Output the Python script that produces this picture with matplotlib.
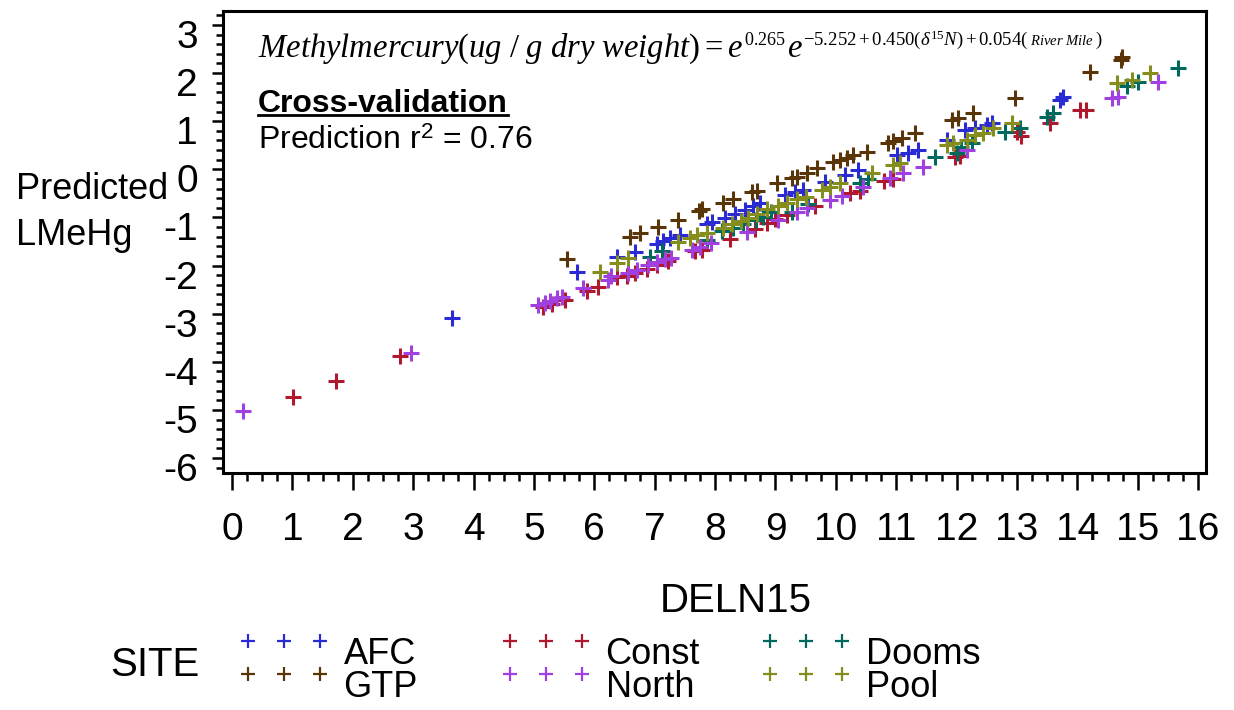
import matplotlib
matplotlib.use('Agg')
import matplotlib.pyplot as plt
from matplotlib.lines import Line2D
from matplotlib.legend_handler import HandlerLine2D
from matplotlib.ticker import MultipleLocator, AutoMinorLocator
import matplotlib.transforms as mtransforms

plt.rcParams['font.family'] = ['Liberation Sans', 'DejaVu Sans']
plt.rcParams['mathtext.fontset'] = 'custom'
plt.rcParams['mathtext.it'] = 'Liberation Serif:italic'
plt.rcParams['mathtext.rm'] = 'Liberation Serif'
plt.rcParams['mathtext.sf'] = 'Liberation Sans'
plt.rcParams['axes.unicode_minus'] = False

# データ（DELN15, 予測LMeHg）サイト別
afc_x = [3.64, 5.71, 6.37, 6.67, 7.04, 7.14, 7.25, 7.42, 7.86, 7.95, 8.16, 8.33, 8.49, 8.63,
         8.74, 9.16, 9.32, 9.45, 9.82, 10.15, 10.36, 11.01, 11.19, 11.36, 11.84, 12.14, 12.30,
         12.50, 12.58, 13.71, 13.76]
afc_y = [-3.09, -2.14, -1.82, -1.72, -1.55, -1.49, -1.43, -1.37, -1.14, -1.10, -1.01, -0.93,
         -0.85, -0.76, -0.70, -0.53, -0.47, -0.43, -0.26, -0.12, -0.01, 0.30, 0.34, 0.40, 0.61,
         0.82, 0.86, 0.92, 0.96, 1.44, 1.50]

const_x = [1.01, 1.72, 2.78, 5.15, 5.30, 5.51, 5.88, 6.06, 6.37, 6.54, 6.67, 6.87, 7.04, 7.22,
           7.67, 7.78, 8.25, 8.66, 8.86, 8.99, 9.19, 9.65, 10.23, 10.40, 10.79, 10.94, 11.97,
           12.05, 13.00, 13.06, 13.54, 14.04, 14.14]
const_y = [-4.73, -4.40, -3.88, -2.86, -2.80, -2.72, -2.53, -2.45, -2.24, -2.22, -2.16, -2.07,
           -1.99, -1.91, -1.70, -1.68, -1.45, -1.24, -1.12, -1.03, -0.95, -0.76, -0.49, -0.45,
           -0.24, -0.20, 0.26, 0.28, 0.78, 0.69, 0.96, 1.23, 1.23]

dooms_x = [6.92, 7.12, 7.86, 8.11, 8.29, 8.46, 8.68, 8.79, 8.92, 9.27, 9.54, 10.40, 10.53,
           11.64, 12.00, 12.07, 12.25, 12.80, 13.05, 13.49, 13.59, 14.82, 15.00, 15.66]
dooms_y = [-1.82, -1.70, -1.47, -1.28, -1.22, -1.14, -1.05, -0.99, -0.89, -0.89, -0.72, -0.28,
           -0.20, 0.26, 0.34, 0.46, 0.55, 0.78, 0.86, 1.09, 1.17, 1.73, 1.81, 2.11]

gtp_x = [5.55, 6.59, 6.75, 7.05, 7.38, 7.73, 7.78, 8.13, 8.29, 8.61, 8.69, 9.02, 9.27, 9.35,
         9.52, 9.68, 9.95, 10.07, 10.18, 10.28, 10.51, 10.86, 10.94, 11.09, 11.31, 11.92, 12.02,
         12.27, 12.96, 14.21, 14.72, 14.74]
gtp_y = [-1.86, -1.41, -1.32, -1.20, -1.05, -0.87, -0.83, -0.70, -0.62, -0.47, -0.45, -0.28,
         -0.18, -0.16, -0.08, 0.03, 0.15, 0.19, 0.23, 0.30, 0.36, 0.55, 0.59, 0.65, 0.75, 1.02,
         1.07, 1.17, 1.48, 2.02, 2.27, 2.33]

north_x = [0.18, 2.96, 5.07, 5.18, 5.26, 5.38, 5.46, 5.81, 6.23, 6.27, 6.56, 6.71, 6.89, 7.04,
           7.17, 7.27, 7.62, 7.75, 7.93, 8.53, 9.04, 9.35, 9.52, 9.90, 10.10, 10.45, 10.89,
           11.11, 11.44, 12.17, 14.57, 14.67, 15.33]
north_y = [-5.02, -3.82, -2.82, -2.78, -2.74, -2.68, -2.65, -2.47, -2.30, -2.22, -2.16, -2.09,
           -1.99, -1.93, -1.86, -1.84, -1.68, -1.62, -1.53, -1.30, -1.05, -0.89, -0.80, -0.64,
           -0.56, -0.37, -0.18, -0.08, 0.05, 0.40, 1.48, 1.50, 1.81]

pool_x = [6.09, 6.37, 6.56, 7.38, 7.58, 7.70, 7.86, 8.13, 8.28, 8.43, 8.54, 8.69, 8.86, 9.04,
          9.19, 9.35, 9.50, 9.77, 9.90, 10.07, 10.60, 10.94, 11.06, 11.84, 11.94, 12.17, 12.30,
          12.43, 12.60, 12.91, 14.65, 14.90, 15.20]
pool_y = [-2.14, -1.95, -1.84, -1.51, -1.43, -1.37, -1.32, -1.22, -1.14, -1.07, -1.01, -0.93,
          -0.83, -0.76, -0.70, -0.62, -0.58, -0.43, -0.37, -0.28, -0.08, 0.09, 0.13, 0.51, 0.55,
          0.61, 0.71, 0.75, 0.86, 0.96, 1.79, 1.86, 2.00]

sites = ['AFC', 'Const', 'Dooms', 'GTP', 'North', 'Pool']
site_x = [afc_x, const_x, dooms_x, gtp_x, north_x, pool_x]
site_y = [afc_y, const_y, dooms_y, gtp_y, north_y, pool_y]
colors = ['#2b2bd6', '#b0182e', '#00695e', '#5a3508', '#a040e0', '#858e1c']

W, H = 1234, 710
fig = plt.figure(figsize=(W / 100, H / 100), dpi=100)
ax = fig.add_axes([223 / W, 1 - 473 / H, (1206 - 223) / W, (473 - 11) / H])

for xs, ys, c in zip(site_x, site_y, colors):
    ax.plot(xs, ys, ls='', marker='+', color=c, markersize=12, markeredgewidth=2.2)

ax.xaxis.set_major_locator(MultipleLocator(1))
ax.xaxis.set_minor_locator(AutoMinorLocator(4))
ax.yaxis.set_major_locator(MultipleLocator(1))
ax.yaxis.set_minor_locator(AutoMinorLocator(5))
for s in ax.spines.values():
    s.set_linewidth(2.2)
ax.tick_params(axis='x', which='major', length=12, width=1.8, pad=16, labelsize=28)
ax.tick_params(axis='x', which='minor', length=6, width=1.8)
ax.tick_params(axis='y', which='major', length=8, width=1.8, pad=10, labelsize=28)
ax.tick_params(axis='y', which='minor', length=5, width=1.8)
ax.set_xticks(range(0, 17))
ax.set_xlim(-0.15, 16.13)
ax.set_ylim(-6.31, 3.29)

# y目盛りラベルは少し下にずらす
off = mtransforms.ScaledTranslation(0, -0.09, fig.dpi_scale_trans)
for lbl in ax.get_yticklabels():
    lbl.set_transform(lbl.get_transform() + off)

# 軸ラベル
fig.text(736 / W, 1 - 612 / H, 'DELN15', ha='center', va='baseline', fontsize=29)
fig.text(16 / W, 1 - 199 / H, 'Predicted', ha='left', va='baseline', fontsize=26)
fig.text(16 / W, 1 - 245 / H, 'LMeHg', ha='left', va='baseline', fontsize=26)

# 式（部品を横に並べる）
renderer = fig.canvas.get_renderer()
eq_parts = [
    (r'$Methylmercury(ug\ /\ g\ dry\ weight) = e$', 23.5, 0),
    (r'$\mathrm{0.265}$', 13, 12),
    (r'$e$', 23.5, 0),
    (r'$-\mathrm{5.252}+\mathrm{0.450}(\delta^{15}N)+\mathrm{0.054}($', 13.5, 12),
    (r'$River\ Mile$', 10.5, 12),
    (r'$)$', 13.5, 12),
]
x_px = 258
base_px = 57
for s, size, rise in eq_parts:
    t = fig.text(x_px / W, 1 - (base_px - rise) / H, s, ha='left', va='baseline', fontsize=size)
    x_px = t.get_window_extent(renderer).x1 + 1

cv = fig.text(258 / W, 1 - 112 / H, 'Cross-validation', ha='left', va='baseline',
              fontsize=23, fontweight='bold')
fig.text(258 / W, 1 - 149 / H, 'Prediction r$^{\mathsf{2}}$ = 0.76', ha='left', va='baseline',
         fontsize=23)

bb = cv.get_window_extent(renderer)
uy = (H - 112 - 3) / H
fig.add_artist(Line2D([bb.x0 / W, bb.x1 / W], [uy, uy], transform=fig.transFigure,
                      color='black', lw=2))


class RaisedHandler(HandlerLine2D):
    # 凡例の記号を文字より少し上に描く
    def create_artists(self, legend, orig_handle, xdescent, ydescent, width, height,
                       fontsize, trans):
        arts = super().create_artists(legend, orig_handle, xdescent, ydescent, width,
                                      height, fontsize, trans)
        for a in arts:
            a.set_ydata([y + 0.28 * fontsize for y in a.get_ydata()])
        return arts


# 凡例（3列）
fig.text(110 / W, 1 - 676 / H, 'SITE', ha='left', va='baseline', fontsize=29)
columns = [(0, 3), (1, 4), (2, 5)]
col_left = [237, 499, 759]
for (i, j), left in zip(columns, col_left):
    handles = [Line2D([], [], ls='', marker='+', color=colors[k], markersize=10,
                      markeredgewidth=1.6) for k in (i, j)]
    fig.legend(handles, [sites[i], sites[j]], ncol=1, numpoints=3, frameon=False,
               fontsize=26, loc='upper left', bbox_to_anchor=(left / W, 1 - 637 / H),
               borderpad=0, borderaxespad=0, handlelength=2.6, handletextpad=0.35,
               labelspacing=-0.05, handler_map={Line2D: RaisedHandler()})

fig.savefig('out.png', dpi=100)
